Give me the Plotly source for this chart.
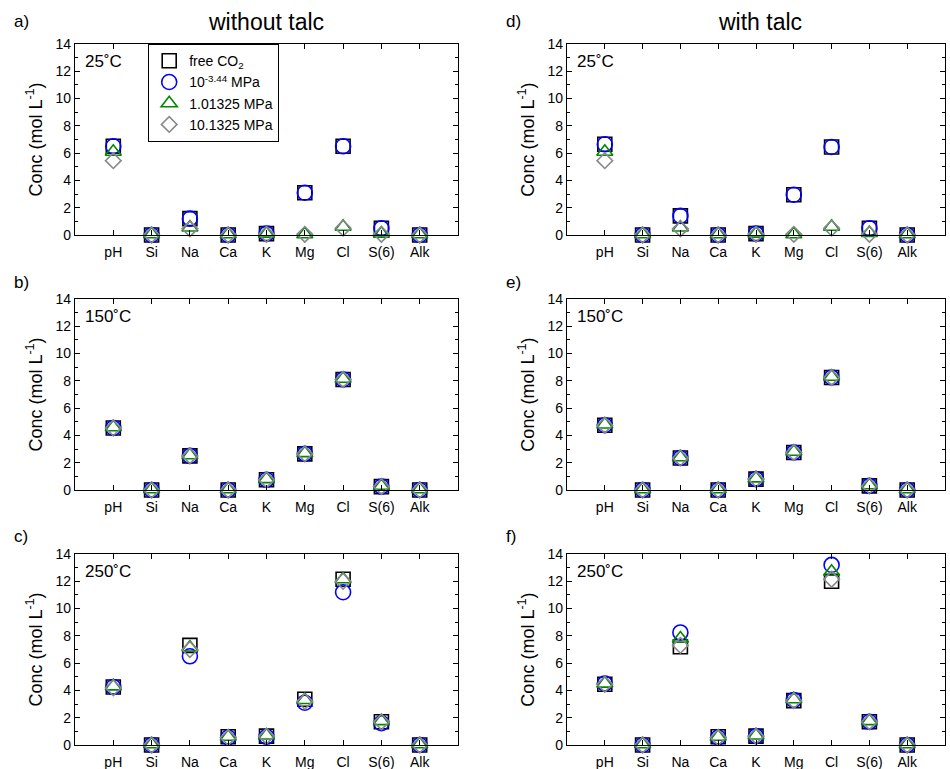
import plotly.graph_objects as go

categories = ["pH", "Si", "Na", "Ca", "K", "Mg", "Cl", "S(6)", "Alk"]
series_names = ["free CO<sub>2</sub>", "10<sup>-3.44</sup> MPa", "1.01325 MPa", "10.1325 MPa"]

# panel a) without talc, 25 C
a_free = [6.5, 0.0, 1.2, 0.0, 0.1, 3.1, 6.5, 0.5, 0.0]
a_low = [6.5, 0.0, 1.2, 0.0, 0.1, 3.1, 6.5, 0.5, 0.0]
a_mid = [6.1, 0.05, 0.55, 0.05, 0.1, 0.05, 0.6, 0.1, 0.05]
a_high = [5.45, 0.0, 0.45, 0.0, 0.05, 0.05, 0.5, 0.05, 0.0]
# panel b) without talc, 150 C
b_free = [4.55, 0.0, 2.5, 0.0, 0.75, 2.65, 8.1, 0.25, 0.0]
b_low = [4.55, 0.0, 2.5, 0.0, 0.75, 2.65, 8.1, 0.25, 0.0]
b_mid = [4.6, 0.05, 2.55, 0.05, 0.8, 2.7, 8.15, 0.3, 0.05]
b_high = [4.55, 0.0, 2.5, 0.0, 0.75, 2.65, 8.1, 0.25, 0.0]
# panel c) without talc, 250 C
c_free = [4.25, 0.0, 7.3, 0.6, 0.65, 3.35, 12.15, 1.7, 0.0]
c_low = [4.25, 0.0, 6.5, 0.55, 0.6, 3.1, 11.2, 1.6, 0.0]
c_mid = [4.3, 0.05, 7.15, 0.6, 0.7, 3.3, 12.15, 1.75, 0.05]
c_high = [4.2, 0.0, 7.0, 0.55, 0.65, 3.2, 12.0, 1.7, 0.0]
# panel d) with talc, 25 C
d_free = [6.65, 0.0, 1.4, 0.0, 0.1, 2.95, 6.45, 0.5, 0.0]
d_low = [6.65, 0.0, 1.4, 0.0, 0.1, 2.95, 6.45, 0.5, 0.0]
d_mid = [6.1, 0.05, 0.55, 0.05, 0.1, 0.05, 0.6, 0.15, 0.05]
d_high = [5.45, 0.0, 0.45, 0.0, 0.05, 0.05, 0.5, 0.05, 0.0]
# panel e) with talc, 150 C
e_free = [4.75, 0.0, 2.35, 0.0, 0.8, 2.75, 8.25, 0.3, 0.0]
e_low = [4.75, 0.0, 2.35, 0.0, 0.8, 2.75, 8.25, 0.3, 0.0]
e_mid = [4.8, 0.05, 2.4, 0.05, 0.85, 2.8, 8.3, 0.35, 0.05]
e_high = [4.75, 0.0, 2.35, 0.0, 0.8, 2.75, 8.25, 0.3, 0.0]
# panel f) with talc, 250 C
f_free = [4.45, 0.0, 7.2, 0.6, 0.65, 3.25, 12.0, 1.7, 0.0]
f_low = [4.5, 0.0, 8.25, 0.55, 0.65, 3.3, 13.2, 1.7, 0.0]
f_mid = [4.5, 0.05, 7.8, 0.6, 0.7, 3.35, 12.7, 1.75, 0.05]
f_high = [4.45, 0.0, 7.3, 0.55, 0.65, 3.25, 12.15, 1.7, 0.0]

panel_labels = ["a)", "b)", "c)", "d)", "e)", "f)"]
temp_labels = ["25˚C", "150˚C", "250˚C", "25˚C", "150˚C", "250˚C"]
col_titles = ["without talc", "with talc"]

panels = [
    [a_free, a_low, a_mid, a_high],
    [b_free, b_low, b_mid, b_high],
    [c_free, c_low, c_mid, c_high],
    [d_free, d_low, d_mid, d_high],
    [e_free, e_low, e_mid, e_high],
    [f_free, f_low, f_mid, f_high],
]

W, H = 950, 769
col_x = [(75, 458), (567, 945)]
row_y = [(44, 235), (299, 490), (554, 745)]

symbols = ["square-open", "circle-open", "triangle-up-open", "diamond-open"]
colors = ["black", "#0000ff", "#008800", "#888888"]
sizes = [14, 15, 14, 12]

xpos = list(range(1, len(categories) + 1))

fig = go.Figure()
font = "Liberation Sans, Arial, sans-serif"
annotations = []

for p in range(6):
    col = p // 3
    row = p % 3
    n = p + 1
    xa = "x" if n == 1 else f"x{n}"
    ya = "y" if n == 1 else f"y{n}"
    for s in range(4):
        fig.add_trace(go.Scatter(
            x=xpos, y=panels[p][s], mode="markers", name=series_names[s],
            marker=dict(symbol=symbols[s], size=sizes[s], color=colors[s],
                        line=dict(width=1.6, color=colors[s])),
            showlegend=(p == 0), xaxis=xa, yaxis=ya, cliponaxis=False))
    x0, x1 = col_x[col]
    y0, y1 = row_y[row]
    xkey = "xaxis" if n == 1 else f"xaxis{n}"
    ykey = "yaxis" if n == 1 else f"yaxis{n}"
    fig.layout[xkey] = dict(
        domain=[x0 / W, x1 / W], anchor=ya, range=[0, 10], automargin=False,
        tickmode="array", tickvals=xpos, ticktext=categories,
        ticks="inside", ticklen=5, tickcolor="black", mirror="ticks",
        ticklabelstandoff=4,
        showline=True, linecolor="black", linewidth=1.2, showgrid=False,
        zeroline=False, tickfont=dict(size=14, color="black", family=font))
    fig.layout[ykey] = dict(
        domain=[1 - y1 / H, 1 - y0 / H], anchor=xa, range=[0, 14], automargin=False,
        tickmode="array", tickvals=list(range(0, 15, 2)),
        ticks="inside", ticklen=5, tickcolor="black", mirror="ticks",
        minor=dict(tickvals=list(range(1, 14, 2)), ticks="inside", ticklen=3, tickcolor="black"),
        showline=True, linecolor="black", linewidth=1.2, showgrid=False,
        zeroline=False, tickfont=dict(size=14, color="black", family=font),
        title=dict(text="Conc (mol L<sup>-1</sup>)", font=dict(size=18, color="black", family=font),
                   standoff=8))
    annotations.append(dict(
        text=temp_labels[p], xref=f"{xa} domain", yref=f"{ya} domain",
        x=0.02, y=0.91, xanchor="left", yanchor="middle", showarrow=False,
        font=dict(size=17, color="black", family=font)))
    lx = 12 if col == 0 else 504
    ly = [22, 282, 536][row]
    annotations.append(dict(
        text=panel_labels[p], xref="paper", yref="paper",
        x=lx / W, y=1 - ly / H, xanchor="left", yanchor="middle", showarrow=False,
        font=dict(size=17, color="black", family=font)))

annotations.append(dict(text=col_titles[0], xref="paper", yref="paper", x=266 / W, y=1 - 22 / H,
                        xanchor="center", yanchor="middle", showarrow=False,
                        font=dict(size=23, color="black", family=font)))
annotations.append(dict(text=col_titles[1], xref="paper", yref="paper", x=760 / W, y=1 - 22 / H,
                        xanchor="center", yanchor="middle", showarrow=False,
                        font=dict(size=23, color="black", family=font)))

fig.update_layout(
    width=W, height=H, margin=dict(l=0, r=0, t=0, b=0, autoexpand=False),
    plot_bgcolor="white", paper_bgcolor="white",
    annotations=annotations,
    legend=dict(x=148 / W, y=1 - 44 / H, xanchor="left", yanchor="top",
                bordercolor="black", borderwidth=1.2, bgcolor="white",
                font=dict(size=14, color="black", family=font),
                tracegroupgap=0, itemwidth=30),
)

fig.write_html("out.html")
